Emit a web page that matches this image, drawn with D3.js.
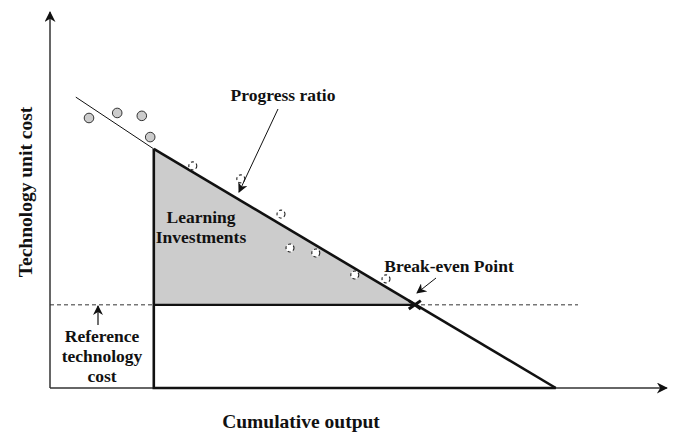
<!DOCTYPE html>
<html><head><meta charset="utf-8">
<script src="https://cdn.jsdelivr.net/npm/d3@7"></script>
<style>body{margin:0;background:#fff}svg{display:block}</style>
</head><body><svg id="c" width="685" height="437"></svg>
<script>
// Conceptual learning-curve diagram (abstract units, 0-100)
const historicalPoints = [[6.5,75],[11.2,76.4],[15.3,75.6],[16.7,69.7]];
const projectedPoints = [[23.8,61.7],[31.8,58.1],[38.5,48.3],[40,38.9],[44.3,37.5],[50.8,31.4],[56,30.3]];
const fitLineStart = [4.3,80.8];
const deploymentStart = [17.3,66.4];
const breakEven = [60.8,23.1];
const curveEnd = [84.3,0];
const referenceCost = 23.1;
const referenceEndX = 88;
const axisMax = [102.8, 104.4];
const labels = {x:"Cumulative output", y:"Technology unit cost", progress:"Progress ratio", learning:["Learning","Investments"], breakEven:"Break-even Point", reference:["Reference","technology","cost"]};

// pick an installed serif font
const cv = document.createElement("canvas").getContext("2d");
function w(f){ cv.font = "bold 40px " + f; return cv.measureText("Technology unit cost WMil").width; }
const candidates = ["Liberation Serif","Times New Roman","DejaVu Serif","Tinos","Noto Serif","Times"];
let FONT = "serif";
for (const c of candidates){
  if (w('"'+c+'", monospace') !== w("monospace") || w('"'+c+'", sans-serif') !== w("sans-serif")) { FONT = '"'+c+'", serif'; break; }
}

const svg = d3.select("#c");
const x = d3.scaleLinear().domain([0,100]).range([50,650]);
const y = d3.scaleLinear().domain([0,100]).range([388,28]);

const defs = svg.append("defs");
function marker(id, w, h){
  defs.append("marker").attr("id",id).attr("viewBox","0 0 10 10").attr("refX",9).attr("refY",5)
    .attr("markerWidth",w).attr("markerHeight",h).attr("orient","auto").attr("markerUnits","userSpaceOnUse")
    .append("path").attr("d","M0,0 L10,5 L0,10 L3,5 Z").attr("fill","#111");
}
marker("axarrow",12,11);
marker("arr",11,10);

svg.append("path")
  .attr("d", d3.line().x(d=>x(d[0])).y(d=>y(d[1]))([deploymentStart,[deploymentStart[0],referenceCost],breakEven]) + "Z")
  .attr("fill","#cccccc").attr("stroke","none");

svg.append("line").attr("x1",x(0)).attr("y1",y(0)).attr("x2",x(0)).attr("y2",y(axisMax[1]))
  .attr("stroke","#333").attr("stroke-width",1.5).attr("marker-end","url(#axarrow)");
svg.append("line").attr("x1",x(0)).attr("y1",y(0)).attr("x2",x(axisMax[0])).attr("y2",y(0))
  .attr("stroke","#333").attr("stroke-width",1.5).attr("marker-end","url(#axarrow)");

svg.append("line").attr("x1",x(0)).attr("y1",y(referenceCost)).attr("x2",x(referenceEndX)).attr("y2",y(referenceCost))
  .attr("stroke","#333").attr("stroke-width",1).attr("stroke-dasharray","4,3");

svg.append("line").attr("x1",x(fitLineStart[0])).attr("y1",y(fitLineStart[1])).attr("x2",x(deploymentStart[0])).attr("y2",y(deploymentStart[1]))
  .attr("stroke","#111").attr("stroke-width",1);

const thick = d3.line().x(d=>x(d[0])).y(d=>y(d[1]));
svg.append("path").attr("d",thick([deploymentStart,curveEnd])).attr("fill","none").attr("stroke","#111").attr("stroke-width",2.6);
svg.append("path").attr("d",thick([[deploymentStart[0],deploymentStart[1]],[deploymentStart[0],0],curveEnd])).attr("fill","none").attr("stroke","#111").attr("stroke-width",2.6);
svg.append("path").attr("d",thick([[deploymentStart[0],referenceCost],breakEven])).attr("fill","none").attr("stroke","#111").attr("stroke-width",2.4);

svg.selectAll(".hist").data(historicalPoints).enter().append("circle")
  .attr("cx",d=>x(d[0])).attr("cy",d=>y(d[1])).attr("r",4.8)
  .attr("fill","#cccccc").attr("stroke","#333").attr("stroke-width",1);
svg.selectAll(".proj").data(projectedPoints).enter().append("circle")
  .attr("cx",d=>x(d[0])).attr("cy",d=>y(d[1])).attr("r",4)
  .attr("fill","#fff").attr("stroke","#222").attr("stroke-width",1.1).attr("stroke-dasharray","3,2.5");

const bx = x(breakEven[0]), by = y(breakEven[1]), s = 6;
svg.append("path").attr("d",`M${bx-s},${by-s*0.7}L${bx+s},${by+s*0.7}M${bx-s},${by+s*0.7}L${bx+s},${by-s*0.7}`)
  .attr("stroke","#111").attr("stroke-width",3);

function txt(){ return svg.append("text").style("font-family",FONT).style("font-weight","bold").attr("fill","#111"); }

txt().attr("x",283).attr("y",101).attr("text-anchor","middle").style("font-size","17.5px").text(labels.progress);
svg.append("line").attr("x1",278).attr("y1",109).attr("x2",239).attr("y2",192)
  .attr("stroke","#111").attr("stroke-width",1).attr("marker-end","url(#arr)");

txt().attr("x",449).attr("y",272).attr("text-anchor","middle").style("font-size","17.5px").text(labels.breakEven);
svg.append("line").attr("x1",436).attr("y1",278).attr("x2",417).attr("y2",293)
  .attr("stroke","#111").attr("stroke-width",1).attr("marker-end","url(#arr)");

const lt = txt().attr("text-anchor","middle").style("font-size","17.5px");
labels.learning.forEach((t,i)=>lt.append("tspan").attr("x",201).attr("y",223+i*20).text(t));

const rt = txt().attr("text-anchor","middle").style("font-size","17.5px");
labels.reference.forEach((t,i)=>rt.append("tspan").attr("x",102).attr("y",342+i*20).text(t));
svg.append("line").attr("x1",98).attr("y1",325).attr("x2",98).attr("y2",306)
  .attr("stroke","#111").attr("stroke-width",1.2).attr("marker-end","url(#arr)");

txt().attr("x",301).attr("y",428).attr("text-anchor","middle").style("font-size","19.5px").text(labels.x);
txt().attr("transform","translate(32,192) rotate(-90)").attr("text-anchor","middle").style("font-size","19.5px").text(labels.y);
</script></body></html>
